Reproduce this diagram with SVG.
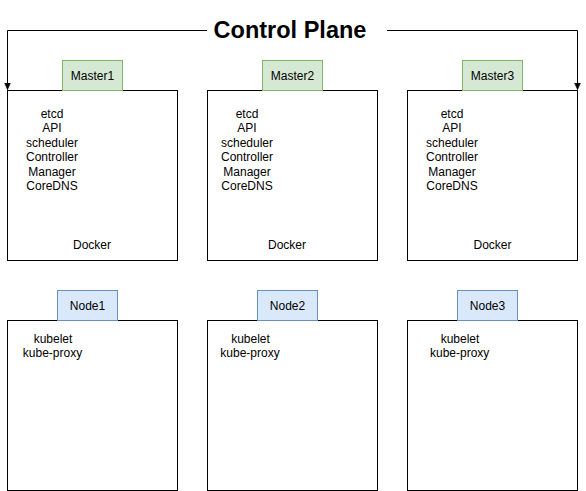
<svg xmlns="http://www.w3.org/2000/svg" width="586" height="491" viewBox="0 0 586 491">
<style>
.box{fill:#ffffff;stroke:#000000;stroke-width:1}
.mtab{fill:#d5e8d4;stroke:#82b366;stroke-width:1}
.ntab{fill:#dae8fc;stroke:#6c8ebf;stroke-width:1}
text{font-family:"Liberation Sans",Arial,Helvetica,sans-serif;font-size:12px;fill:#000000;text-anchor:middle}
.title{font-size:23.5px;font-weight:bold}
.conn{fill:none;stroke:#000000;stroke-width:1}
</style>
<defs>
<marker id="arrow" viewBox="0 0 8 8" refX="8" refY="4" markerWidth="7" markerHeight="7" markerUnits="userSpaceOnUse" orient="auto">
<path d="M0,0.5 L8,4 L0,7.5 L1,4 Z" fill="#000000" stroke="#000000" stroke-width="0.8" stroke-linejoin="miter"/>
</marker>
</defs>
<rect x="0" y="0" width="586" height="491" fill="#ffffff"/>
<g id="master1">
<rect class="box" x="7.5" y="90.5" width="170" height="170"/>
<rect class="mtab" x="62.5" y="60.5" width="60" height="30"/>
<text x="92.5" y="79.5">Master1</text>
<text x="52" y="118">etcd</text>
<text x="52" y="132.4">API</text>
<text x="52" y="146.8">scheduler</text>
<text x="52" y="161.2">Controller</text>
<text x="52" y="175.6">Manager</text>
<text x="52" y="190">CoreDNS</text>
<text x="92" y="248.7">Docker</text>
</g>
<g id="master2">
<rect class="box" x="207.5" y="90.5" width="170" height="170"/>
<rect class="mtab" x="262.5" y="60.5" width="60" height="30"/>
<text x="292.5" y="79.5">Master2</text>
<text x="247" y="118">etcd</text>
<text x="247" y="132.4">API</text>
<text x="247" y="146.8">scheduler</text>
<text x="247" y="161.2">Controller</text>
<text x="247" y="175.6">Manager</text>
<text x="247" y="190">CoreDNS</text>
<text x="287" y="248.7">Docker</text>
</g>
<g id="master3">
<rect class="box" x="407.5" y="90.5" width="170" height="170"/>
<rect class="mtab" x="462.5" y="60.5" width="60" height="30"/>
<text x="492.5" y="79.5">Master3</text>
<text x="452" y="118">etcd</text>
<text x="452" y="132.4">API</text>
<text x="452" y="146.8">scheduler</text>
<text x="452" y="161.2">Controller</text>
<text x="452" y="175.6">Manager</text>
<text x="452" y="190">CoreDNS</text>
<text x="492.5" y="248.7">Docker</text>
</g>
<g id="node1">
<rect class="box" x="7.5" y="320.5" width="170" height="170"/>
<rect class="ntab" x="57.5" y="290.5" width="60" height="30"/>
<text x="87.5" y="309.5">Node1</text>
<text x="53" y="342.5">kubelet</text>
<text x="52.5" y="356.9">kube-proxy</text>
</g>
<g id="node2">
<rect class="box" x="207.5" y="320.5" width="170" height="170"/>
<rect class="ntab" x="257.5" y="290.5" width="60" height="30"/>
<text x="287.5" y="309.5">Node2</text>
<text x="250.5" y="342.5">kubelet</text>
<text x="250" y="356.9">kube-proxy</text>
</g>
<g id="node3">
<rect class="box" x="407.5" y="320.5" width="170" height="170"/>
<rect class="ntab" x="457.5" y="290.5" width="60" height="30"/>
<text x="487.5" y="309.5">Node3</text>
<text x="460" y="342.5">kubelet</text>
<text x="459.7" y="356.9">kube-proxy</text>
</g>
<g id="control-plane">
<text class="title" x="290" y="37.5">Control Plane</text>
</g>
<g id="connectors">
<path class="conn" d="M207,30.5 H7.5 V89.5" marker-end="url(#arrow)"/>
<path class="conn" d="M387,30.5 H577.5 V89.5" marker-end="url(#arrow)"/>
</g>
</svg>
